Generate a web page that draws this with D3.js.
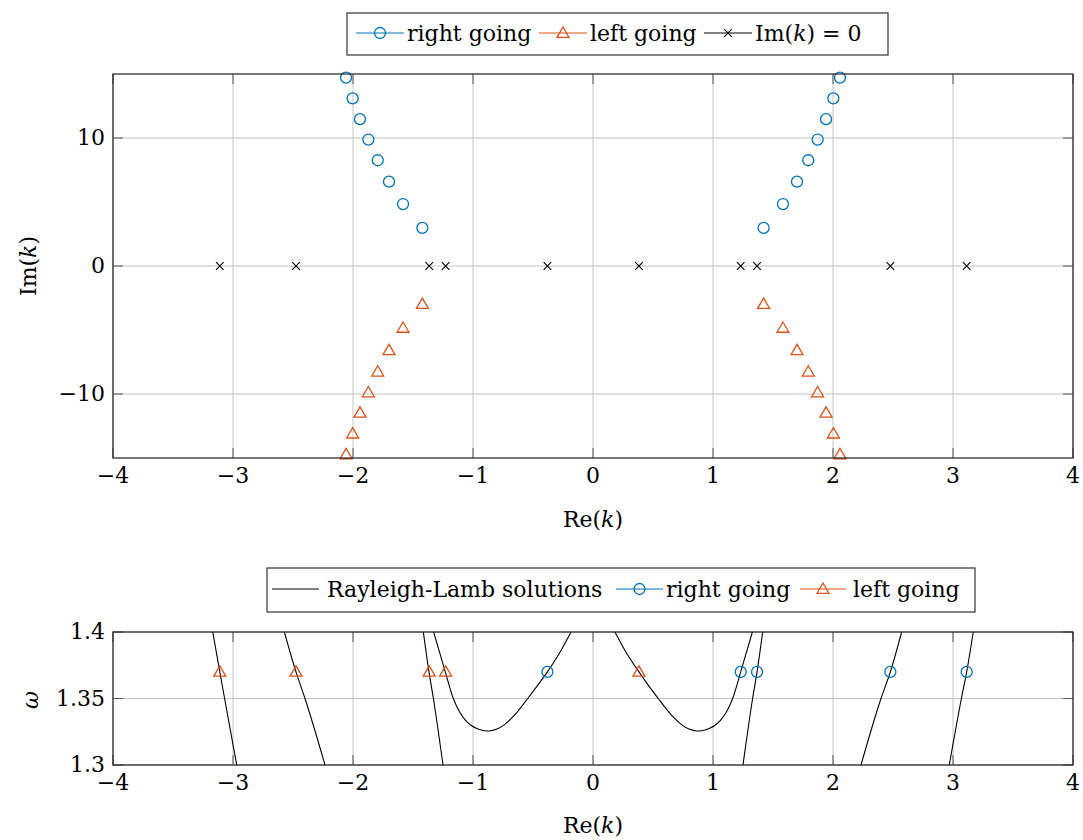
<!DOCTYPE html>
<html><head><meta charset="utf-8">
<script src="https://cdn.jsdelivr.net/npm/d3@7"></script>
<style>
body{margin:0;background:#fff;}
</style></head>
<body><svg id="c" width="1083" height="840" font-family="'DejaVu Serif','Liberation Serif',serif"></svg>
<script>
// ---------- data ----------
const xTicks = [-4,-3,-2,-1,0,1,2,3,4];
const yTicksTop = [-10,0,10];
const yTicksBottom = [1.3,1.35,1.4];

// upper plot: complex roots
const rightGoingRe = [-2.058,-2.003,-1.942,-1.872,-1.794,-1.70,-1.583,-1.422, 1.422,1.583,1.70,1.794,1.872,1.942,2.003,2.058];
const rightGoingIm = [14.72,13.10,11.47,9.88,8.26,6.59,4.84,2.98, 2.98,4.84,6.59,8.26,9.88,11.47,13.10,14.72];
const leftGoingRe  = [-2.058,-2.003,-1.942,-1.872,-1.794,-1.70,-1.583,-1.422, 1.422,1.583,1.70,1.794,1.872,1.942,2.003,2.058];
const leftGoingIm  = [-14.72,-13.10,-11.47,-9.88,-8.26,-6.59,-4.84,-2.98, -2.98,-4.84,-6.59,-8.26,-9.88,-11.47,-13.10,-14.72];
const realRootsRe  = [-3.11,-2.475,-1.365,-1.228,-0.38,0.383,1.231,1.367,2.478,3.114];
const realRootsIm  = [0,0,0,0,0,0,0,0,0,0];

// lower plot: dispersion branches (k, omega)
const omegaSample = 1.37;
const rightGoingReal = [-0.38,1.231,1.367,2.478,3.114];
const leftGoingReal  = [-3.11,-2.475,-1.365,-1.228,0.383];
const branch1 = [[-3.169,1.40],[-3.11,1.37],[-3.07,1.35],[-2.969,1.30]];
const branch2 = [[-2.572,1.40],[-2.475,1.37],[-2.40,1.35],[-2.233,1.30]];
const branch3 = [[-1.414,1.40],[-1.367,1.37],[-1.33,1.35],[-1.25,1.30]];
const branch4 = [[-1.328,1.40],[-1.274,1.3833],[-1.231,1.370],[-1.164,1.350],[-1.114,1.3403],[-1.064,1.3338],[-1.014,1.3297],[-0.964,1.3273],[-0.914,1.3260],[-0.864,1.3256],[-0.80,1.3270],[-0.74,1.3302],[-0.68,1.3350],[-0.62,1.3411],[-0.544,1.350],[-0.46,1.3601],[-0.38,1.370],[-0.28,1.384],[-0.183,1.40]];
const branch5 = [[0.183,1.40],[0.28,1.384],[0.383,1.370],[0.46,1.3601],[0.544,1.350],[0.62,1.3411],[0.68,1.3350],[0.74,1.3302],[0.80,1.3270],[0.864,1.3256],[0.914,1.3260],[0.964,1.3273],[1.014,1.3297],[1.064,1.3338],[1.114,1.3403],[1.164,1.350],[1.231,1.370],[1.274,1.3833],[1.328,1.40]];
const branch6 = [[1.25,1.30],[1.33,1.35],[1.367,1.37],[1.414,1.40]];
const branch7 = [[2.233,1.30],[2.40,1.35],[2.478,1.37],[2.572,1.40]];
const branch8 = [[2.969,1.30],[3.07,1.35],[3.114,1.37],[3.169,1.40]];
const branches = [branch1,branch2,branch3,branch4,branch5,branch6,branch7,branch8];

// ---------- style ----------
const BLUE = "#0072BD", ORANGE = "#D95319";
const FS = 22;
const svg = d3.select("#c");

function fmt(v){ const s = String(v); return v<0 ? "\u2212"+s.slice(1) : s; }

function frame(g, x, y, xt, yt, yfmt){
  const [x0,x1] = x.range(), [y0,y1] = y.range();
  const grid = g.append("g").attr("stroke","#c4c4c4").attr("stroke-width",1);
  xt.forEach(t=>grid.append("line").attr("x1",x(t)).attr("x2",x(t)).attr("y1",y1).attr("y2",y0));
  yt.forEach(t=>grid.append("line").attr("x1",x0).attr("x2",x1).attr("y1",y(t)).attr("y2",y(t)));
  const tk = g.append("g").attr("stroke","#555").attr("stroke-width",1);
  const L = 10;
  xt.forEach(t=>{
    tk.append("line").attr("x1",x(t)).attr("x2",x(t)).attr("y1",y0).attr("y2",y0-L);
    tk.append("line").attr("x1",x(t)).attr("x2",x(t)).attr("y1",y1).attr("y2",y1+L);
  });
  yt.forEach(t=>{
    tk.append("line").attr("x1",x0).attr("x2",x0+L).attr("y1",y(t)).attr("y2",y(t));
    tk.append("line").attr("x1",x1).attr("x2",x1-L).attr("y1",y(t)).attr("y2",y(t));
  });
  xt.forEach(t=>g.append("text").attr("x",x(t)).attr("y",y0+25).attr("text-anchor","middle").attr("font-size",FS).text(fmt(t)));
  yt.forEach(t=>g.append("text").attr("x",x0-8).attr("y",y(t)+7).attr("text-anchor","end").attr("font-size",FS).text(yfmt(t)));
}
function border(g,x,y){
  const [x0,x1]=x.range(),[y0,y1]=y.range();
  g.append("rect").attr("x",x0).attr("y",y1).attr("width",x1-x0).attr("height",y0-y1)
    .attr("fill","none").attr("stroke","#222").attr("stroke-width",1.2);
}
function circle(g,cx,cy,c){ g.append("circle").attr("cx",cx).attr("cy",cy).attr("r",5.5).attr("fill","none").attr("stroke",c||BLUE).attr("stroke-width",1.3); }
function tri(g,cx,cy){ const s=6; g.append("path").attr("d",`M${cx},${cy-s}L${cx+s},${cy+s*0.72}L${cx-s},${cy+s*0.72}Z`).attr("fill","none").attr("stroke",ORANGE).attr("stroke-width",1.3); }
function cross(g,cx,cy){ const s=3.8; g.append("path").attr("d",`M${cx-s},${cy-s}L${cx+s},${cy+s}M${cx-s},${cy+s}L${cx+s},${cy-s}`).attr("stroke","#000").attr("stroke-width",1.1); }

// ---------- upper plot ----------
const x = d3.scaleLinear().domain([-4,4]).range([113,1073]);
const yT = d3.scaleLinear().domain([-15,15]).range([458,74]);
const gT = svg.append("g");
frame(gT, x, yT, xTicks, yTicksTop, fmt);
rightGoingRe.forEach((r,i)=>circle(gT, x(r), yT(rightGoingIm[i])));
leftGoingRe.forEach((r,i)=>tri(gT, x(r), yT(leftGoingIm[i])));
realRootsRe.forEach((r,i)=>cross(gT, x(r), yT(realRootsIm[i])));
border(gT, x, yT);

function kLabel(t, pre, post){
  t.append("tspan").text(pre);
  t.append("tspan").attr("font-style","italic").text("k");
  t.append("tspan").text(post);
}
kLabel(gT.append("text").attr("x",593).attr("y",527).attr("text-anchor","middle").attr("font-size",FS), "Re(", ")");
kLabel(gT.append("text").attr("transform","translate(36,266) rotate(-90)").attr("text-anchor","middle").attr("font-size",FS), "Im(", ")");

// ---------- legends ----------
function legendEntry(g, xs, xe, y, kind, color){
  g.append("line").attr("x1",xs).attr("x2",xe).attr("y1",y).attr("y2",y).attr("stroke",color).attr("stroke-width",1.2);
  const m=(xs+xe)/2;
  if(kind==="circle") circle(g,m,y,color);
  else if(kind==="tri") tri(g,m,y);
  else if(kind==="cross") cross(g,m,y);
}
{
  const g = svg.append("g");
  g.append("rect").attr("x",347).attr("y",13).attr("width",541).attr("height",42).attr("fill","#fff").attr("stroke","#333").attr("stroke-width",1.2);
  const cy = 33;
  legendEntry(g,356,404,cy,"circle",BLUE);
  g.append("text").attr("x",407).attr("y",cy+8).attr("font-size",FS).text("right going");
  legendEntry(g,539,587,cy,"tri",ORANGE);
  g.append("text").attr("x",590).attr("y",cy+8).attr("font-size",FS).text("left going");
  legendEntry(g,704,752,cy,"cross","#000");
  kLabel(g.append("text").attr("x",755).attr("y",cy+8).attr("font-size",FS), "Im(", ") = 0");
}

// ---------- lower plot ----------
const yB = d3.scaleLinear().domain([1.3,1.4]).range([765,632]);
const gB = svg.append("g");
frame(gB, x, yB, xTicks, yTicksBottom, v=>String(v));
svg.append("defs").append("clipPath").attr("id","clipB").append("rect").attr("x",113).attr("y",632).attr("width",960).attr("height",133);
const line = d3.line().x(d=>x(d[0])).y(d=>yB(d[1])).curve(d3.curveMonotoneX);
const gC = gB.append("g").attr("clip-path","url(#clipB)");
branches.forEach(b=>{
  const pts = b.slice().sort((a,c)=>a[0]-c[0]);
  gC.append("path").attr("d",line(pts)).attr("fill","none").attr("stroke","#000").attr("stroke-width",1.1);
});
rightGoingReal.forEach(r=>circle(gB, x(r), yB(omegaSample)));
leftGoingReal.forEach(r=>tri(gB, x(r), yB(omegaSample)));
border(gB, x, yB);
kLabel(gB.append("text").attr("x",593).attr("y",833).attr("text-anchor","middle").attr("font-size",FS), "Re(", ")");
gB.append("text").attr("transform","translate(38,700) rotate(-90)").attr("text-anchor","middle").attr("font-size",FS).attr("font-style","italic").text("ω");

{
  const g = svg.append("g");
  g.append("rect").attr("x",267).attr("y",568).attr("width",708).attr("height",44).attr("fill","#fff").attr("stroke","#333").attr("stroke-width",1.2);
  const cy = 589;
  legendEntry(g,272,319,cy,"none","#000");
  g.append("text").attr("x",327).attr("y",cy+8).attr("font-size",FS).text("Rayleigh-Lamb solutions");
  legendEntry(g,616,663,cy,"circle",BLUE);
  g.append("text").attr("x",666).attr("y",cy+8).attr("font-size",FS).text("right going");
  legendEntry(g,800,846,cy,"tri",ORANGE);
  g.append("text").attr("x",853).attr("y",cy+8).attr("font-size",FS).text("left going");
}
</script></body></html>
